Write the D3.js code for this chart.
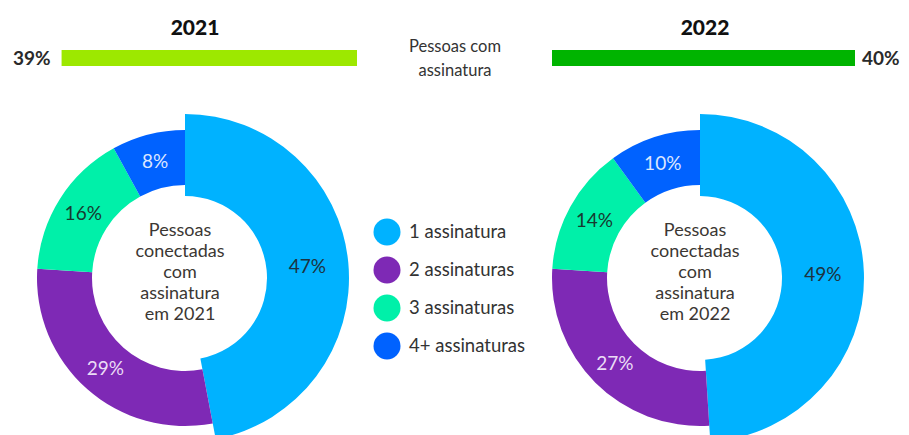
<!DOCTYPE html>
<html>
<head>
<meta charset="utf-8">
<script src="https://cdn.jsdelivr.net/npm/d3@7"></script>
<style>
  body { margin: 0; background: #fff; }
  text { font-family: Lato, "Open Sans", sans-serif; }
</style>
</head>
<body>
<div id="chart"></div>
<script>
// data
const years = ["2021", "2022"];
const withSubscription = [39, 40];
const categories = ["1 assinatura", "2 assinaturas", "3 assinaturas", "4+ assinaturas"];
const shares2021 = [47, 29, 16, 8];
const shares2022 = [49, 27, 14, 10];

const colors = ["#00b2ff", "#7e29b5", "#00f0a9", "#0062ff"];
const labelColors = ["#1d3340", "#eadcf5", "#173a30", "#dce6ff"];
const barColors = ["#9de800", "#00b400"];

const width = 909, height = 435;

const svg = d3.select("#chart")
  .append("svg")
    .attr("width", width)
    .attr("height", height);

// header: year titles + bars "Pessoas com assinatura"
const x = d3.scaleLinear().domain([0, 40]).range([0, 303]);
const barY = 50, barH = 16;

const header = [
  {year: years[0], v: withSubscription[0], anchor: 357, dir: -1, color: barColors[0], titleX: 195},
  {year: years[1], v: withSubscription[1], anchor: 552, dir: 1, color: barColors[1], titleX: 705}
];

header.forEach(t => {
  svg.append("text")
    .attr("x", t.titleX).attr("y", 35)
    .attr("text-anchor", "middle")
    .style("font-size", "21px").style("font-weight", 900).style("fill", "#111")
    .text(t.year);

  const w = x(t.v);
  svg.append("rect")
    .attr("x", t.dir < 0 ? t.anchor - w : t.anchor)
    .attr("y", barY)
    .attr("width", w).attr("height", barH)
    .attr("fill", t.color);

  svg.append("text")
    .attr("x", t.dir < 0 ? t.anchor - w - 11 : t.anchor + w + 7)
    .attr("y", barY + 15)
    .attr("text-anchor", t.dir < 0 ? "end" : "start")
    .style("font-size", "19px").style("font-weight", 700).style("fill", "#2a2a2a")
    .text(t.v + "%");
});

svg.append("text")
  .attr("x", 455).attr("y", 52)
  .attr("text-anchor", "middle")
  .style("font-size", "16.5px").style("fill", "#333")
  .selectAll("tspan")
  .data(["Pessoas com", "assinatura"])
  .enter().append("tspan")
    .attr("x", 455)
    .attr("dy", (d, i) => i === 0 ? 0 : 24)
    .text(d => d);

// donuts
const pie = d3.pie().sort(null).value(d => d);

const drawDonut = (cx, cy, shares, year) => {
  const g = svg.append("g").attr("transform", "translate(" + cx + "," + cy + ")");
  const arcs = pie(shares);

  // first slice is drawn bigger than the others
  const arcFor = (i) => i === 0
    ? d3.arc().innerRadius(82).outerRadius(164)
    : d3.arc().innerRadius(93).outerRadius(148);

  g.selectAll("path")
    .data(arcs)
    .enter()
    .append("path")
      .attr("d", (d, i) => arcFor(i)(d))
      .attr("fill", (d, i) => colors[i]);

  g.selectAll(".lbl")
    .data(arcs)
    .enter()
    .append("text")
      .attr("class", "lbl")
      .attr("transform", (d, i) => "translate(" + arcFor(i).centroid(d) + ")")
      .attr("text-anchor", "middle")
      .attr("dy", "0.35em")
      .style("font-size", "19px")
      .style("fill", (d, i) => labelColors[i])
      .text(d => d.data + "%");

  g.append("text")
    .attr("text-anchor", "middle")
    .style("font-size", "18px").style("fill", "#3b3733")
    .selectAll("tspan")
    .data(["Pessoas", "conectadas", "com", "assinatura", "em " + year])
    .enter().append("tspan")
      .attr("x", -5)
      .attr("y", (d, i) => -48 + i * 21)
      .attr("dy", "0.35em")
      .text(d => d);
};

drawDonut(185, 278, shares2021, years[0]);
drawDonut(700, 278, shares2022, years[1]);

// legend
const legend = svg.append("g").attr("transform", "translate(387,232)");
const item = legend.selectAll("g")
  .data(categories)
  .enter()
  .append("g")
    .attr("transform", (d, i) => "translate(0," + i * 38 + ")");

item.append("circle")
  .attr("r", 13.5)
  .attr("fill", (d, i) => colors[i]);

item.append("text")
  .attr("x", 22)
  .attr("dy", "0.35em")
  .style("font-size", "18.5px").style("fill", "#333")
  .text(d => d);
</script>
</body>
</html>
